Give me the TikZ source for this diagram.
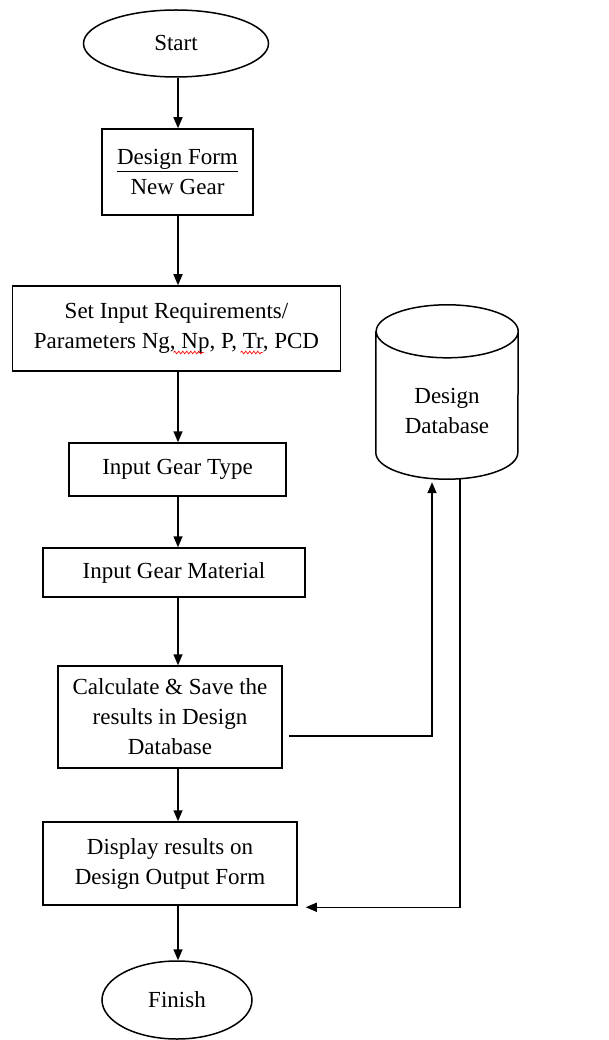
\documentclass[tikz,border=0pt]{standalone}
\usepackage{fontspec}
\setmainfont{Liberation Serif}
\usetikzlibrary{shapes.geometric,arrows.meta,calc,decorations.pathmorphing}
\tikzset{
  every node/.style={font=\fontsize{23}{30}\selectfont, align=center, inner sep=0pt},
  box/.style={draw, line width=1.5pt, rectangle},
  term/.style={draw, line width=1.5pt, ellipse},
  arr/.style={line width=1.5pt, -{Triangle[length=11pt,width=9pt]}},
  ln/.style={line width=1.5pt},
  spell/.style={red, line width=0.7pt, decorate, decoration={snake, amplitude=1.3pt, segment length=4pt}},
}
\begin{document}
\begin{tikzpicture}[x=1pt,y=1pt]
\useasboundingbox[fill=white] (0,0) rectangle (608,-1040);
\coordinate (axis) at (178,0);
\node[term, minimum width=185, minimum height=67] (start) at (176,-43.5) {Start};
\node[box, minimum width=151, minimum height=86] (design) at (177.5,-172) {\underline{Design Form}\\New Gear};
\node[box, minimum width=328, minimum height=85] (setin) at (176.5,-328.5) {Set Input Requirements/\\Parameters Ng, Np, P, Tr, PCD};
\node[box, minimum width=217, minimum height=53] (gtype) at (177.5,-469.5) {Input Gear Type};
\node[box, minimum width=262, minimum height=49] (gmat) at (174,-572.5) {Input Gear Material};
\node[box, minimum width=224, minimum height=102] (calc) at (170,-717) {Calculate \& Save the\\results in Design\\Database};
\node[box, minimum width=254, minimum height=83] (disp) at (170,-863.5) {Display results on\\Design Output Form};
\node[term, minimum width=150, minimum height=78] (finish) at (177,-1000) {Finish};
% spelling marks
\draw[spell] ($(setin.center)+(-3,-24)$) -- ++(30,0);
\draw[spell] ($(setin.center)+(64,-24)$) -- ++(22,0);
% database cylinder
\node[minimum width=142, minimum height=174] (db) at (447,-392) {};
\draw[ln] ($(db.north west)+(0,-26.5)$) -- ($(db.south west)+(0,26.5)$)
  arc[start angle=180, end angle=360, x radius=71, y radius=26.5]
  -- ($(db.north east)+(0,-26.5)$)
  arc[start angle=0, end angle=360, x radius=71, y radius=26.5];
\node (dbtext) at (447,-411) {Design\\Database};
% main flow
\draw[arr] (start.south -| axis) -- (design.north -| axis);
\draw[arr] (design.south -| axis) -- (setin.north -| axis);
\draw[arr] (setin.south -| axis) -- (gtype.north -| axis);
\draw[arr] (gtype.south -| axis) -- (gmat.north -| axis);
\draw[arr] (gmat.south -| axis) -- (calc.north -| axis);
\draw[arr] (calc.south -| axis) -- (disp.north -| axis);
\draw[arr] (disp.south -| axis) -- (finish.north -| axis);
% to/from database
\coordinate (c1) at ($(calc.east)+(6,-19)$);
\coordinate (dbin) at ($(db.south)+(-15,-3)$);
\coordinate (dbout) at ($(db.south)+(13,0.5)$);
\coordinate (dispin) at ($(disp.south east)+(8,-1.5)$);
\draw[arr] (c1) -| (dbin);
\draw[arr] (dbout) |- (dispin);
\end{tikzpicture}
\end{document}
